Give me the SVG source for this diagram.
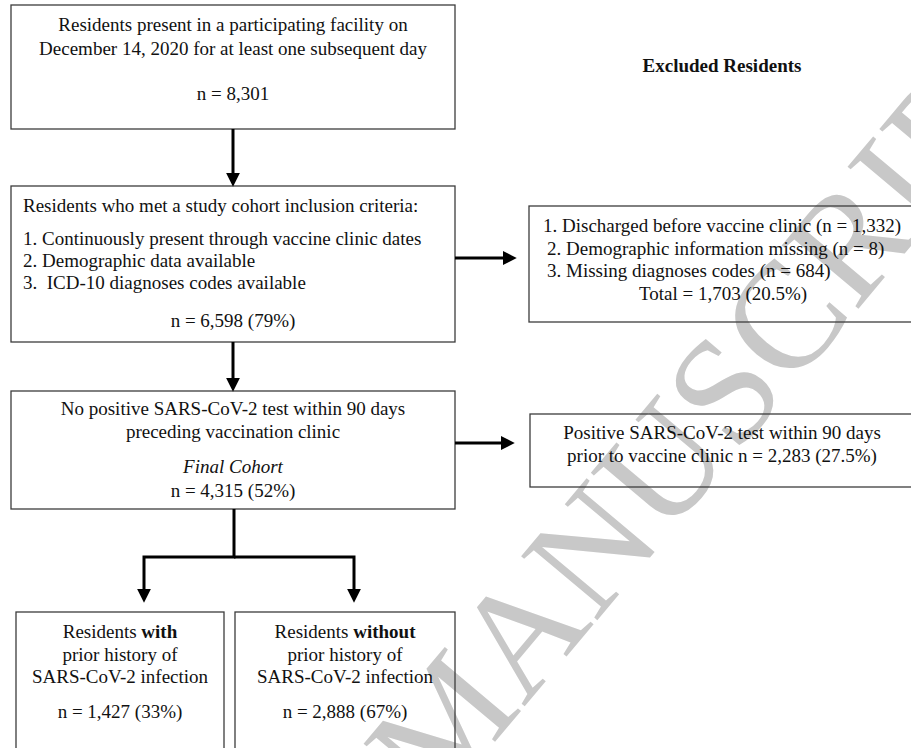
<svg xmlns="http://www.w3.org/2000/svg" width="911" height="748" viewBox="0 0 911 748">
<style>
.box{fill:none;stroke:#3c3c3c;stroke-width:1.3}
.t{font-family:"Liberation Serif","Times New Roman",serif;font-size:19px;fill:#111}
.c{text-anchor:middle}
.conn{fill:none;stroke:#000;stroke-width:3;stroke-linejoin:miter}
.wm{font-family:"Liberation Serif","Times New Roman",serif;font-size:152px;fill:#c8c8c8}
</style>
<defs>
<marker id="ah" markerUnits="userSpaceOnUse" markerWidth="14" markerHeight="14" viewBox="0 0 13 13" refX="3" refY="6.5" orient="auto">
<path d="M0,0 L13,6.5 L0,13 Z" fill="#000"/>
</marker>
</defs>
<rect width="911" height="748" fill="#fff"/>
<g id="watermark">
<text class="wm" transform="translate(437,811) rotate(-50)">MANUSCRIPT</text>
</g>
<g id="n1">
<rect class="box" x="11" y="5" width="444" height="124"/>
<text class="t c" x="233" y="31">Residents present in a participating facility on</text>
<text class="t c" x="233" y="55">December 14, 2020 for at least one subsequent day</text>
<text class="t c" x="233" y="100">n = 8,301</text>
</g>
<g id="title">
<text class="t c" x="722" y="72" font-weight="bold">Excluded Residents</text>
</g>
<g id="n2">
<rect class="box" x="11" y="186" width="444" height="156"/>
<text class="t" x="23" y="212">Residents who met a study cohort inclusion criteria:</text>
<text class="t" x="23" y="245">1. Continuously present through vaccine clinic dates</text>
<text class="t" x="23" y="267">2. Demographic data available</text>
<text class="t" x="23" y="289" xml:space="preserve">3.  ICD-10 diagnoses codes available</text>
<text class="t c" x="233" y="327">n = 6,598 (79%)</text>
</g>
<g id="n3">
<rect class="box" x="529" y="206" width="386" height="116"/>
<text class="t" x="543" y="232">1. Discharged before vaccine clinic (n = 1,332)</text>
<text class="t" x="547" y="255">2. Demographic information missing (n = 8)</text>
<text class="t" x="547" y="277">3. Missing diagnoses codes (n = 684)</text>
<text class="t c" x="723" y="300">Total = 1,703 (20.5%)</text>
</g>
<g id="n4">
<rect class="box" x="11" y="391" width="444" height="118"/>
<text class="t c" x="233" y="415">No positive SARS-CoV-2 test within 90 days</text>
<text class="t c" x="233" y="438">preceding vaccination clinic</text>
<text class="t c" x="233" y="473" font-style="italic">Final Cohort</text>
<text class="t c" x="233" y="497">n = 4,315 (52%)</text>
</g>
<g id="n5">
<rect class="box" x="530" y="414" width="385" height="73"/>
<text class="t c" x="722" y="439">Positive SARS-CoV-2 test within 90 days</text>
<text class="t c" x="722" y="462">prior to vaccine clinic n = 2,283 (27.5%)</text>
</g>
<g id="n6">
<rect class="box" x="16" y="612" width="208" height="150"/>
<text class="t c" x="120" y="638">Residents <tspan font-weight="bold">with</tspan></text>
<text class="t c" x="120" y="661">prior history of</text>
<text class="t c" x="120" y="683">SARS-CoV-2 infection</text>
<text class="t c" x="120" y="718">n = 1,427 (33%)</text>
</g>
<g id="n7">
<rect class="box" x="235" y="612" width="220" height="150"/>
<text class="t c" x="345" y="638">Residents <tspan font-weight="bold">without</tspan></text>
<text class="t c" x="345" y="661">prior history of</text>
<text class="t c" x="345" y="683">SARS-CoV-2 infection</text>
<text class="t c" x="345" y="718">n = 2,888 (67%)</text>
</g>
<g id="connectors">
<path class="conn" d="M233,129 V176" marker-end="url(#ah)"/>
<path class="conn" d="M233,342 V381" marker-end="url(#ah)"/>
<path class="conn" d="M455,258 H506" marker-end="url(#ah)"/>
<path class="conn" d="M455,443 H504" marker-end="url(#ah)"/>
<path class="conn" d="M234,509 V557 H144 V592" marker-end="url(#ah)"/>
<path class="conn" d="M234,557 H354 V592" marker-end="url(#ah)"/>
</g>
</svg>
